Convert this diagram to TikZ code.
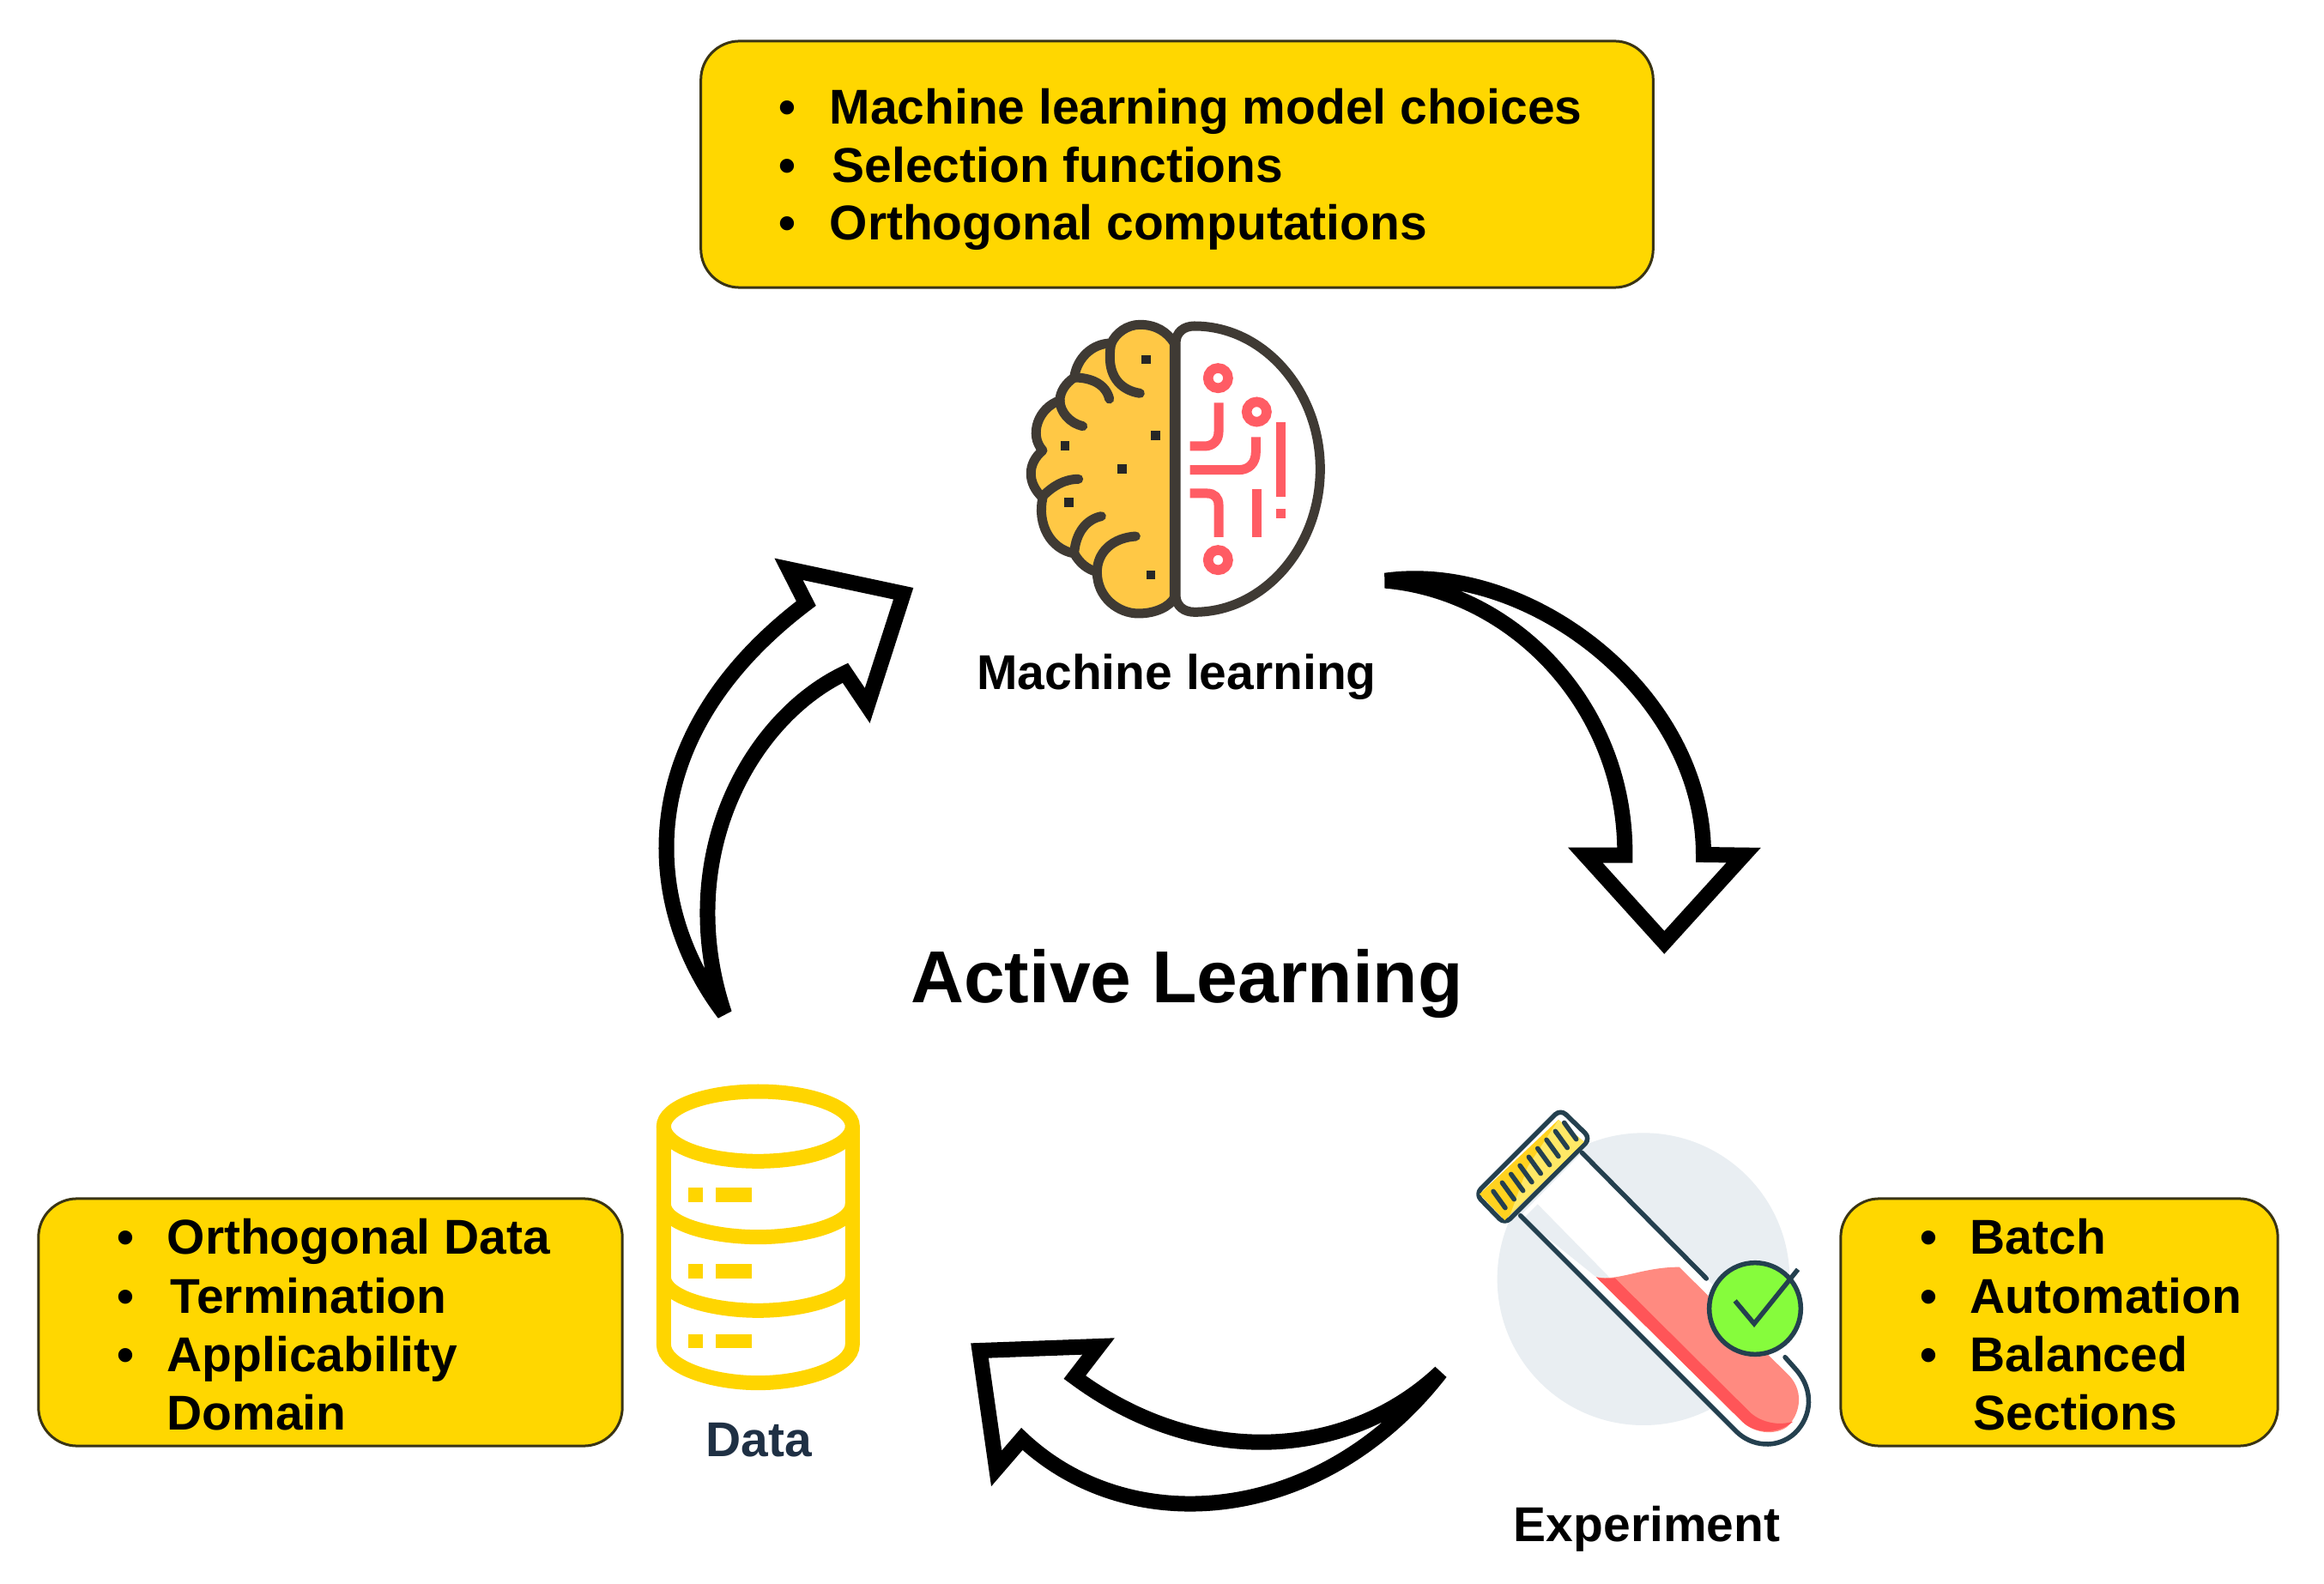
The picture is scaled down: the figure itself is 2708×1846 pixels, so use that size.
\documentclass[tikz,border=0pt]{standalone}
\usepackage{fontspec}
\setmainfont{Liberation Sans}
\definecolor{boxyellow}{HTML}{FFD700}
\definecolor{boxline}{HTML}{3A3414}
\definecolor{brainline}{HTML}{3F3A34}
\definecolor{brainfill}{HTML}{FFC845}
\definecolor{circuit}{HTML}{FF5C64}
\definecolor{tubeline}{HTML}{24404F}
\definecolor{discgrey}{HTML}{E9EEF2}
\definecolor{liquidlight}{HTML}{FF8A80}
\definecolor{liquiddark}{HTML}{FF5558}
\definecolor{capyellow}{HTML}{FFD21F}
\definecolor{caplight}{HTML}{FFE866}
\definecolor{checkgreen}{HTML}{86FC3C}
\definecolor{dbyellow}{HTML}{FFD500}
\definecolor{datatext}{HTML}{1F3044}
\tikzset{
  x=0.01cm,y=-0.01cm,
  px/.style={line width=#1*0.2845pt},
  infobox/.style={draw=boxline,fill=boxyellow,px=3,rounded corners=12.8pt,inner sep=0pt},
  itemtext/.style={anchor=base west,inner sep=0pt,font=\bfseries\fontsize{16.2pt}{19pt}\selectfont},
  itembullet/.style={anchor=base,inner sep=0pt,font=\bfseries\fontsize{16.2pt}{19pt}\selectfont},
  labeltext/.style={anchor=base,inner sep=0pt,font=\bfseries\fontsize{16.2pt}{19pt}\selectfont},
  blockarrow/.style={draw=black,fill=white,px=18,line join=miter,miter limit=6},
  brainstroke/.style={draw=brainline,px=11,line cap=round,line join=round},
  circuitstroke/.style={draw=circuit,px=11,line cap=butt},
  tubestroke/.style={draw=tubeline,px=5.5,line cap=round,line join=round},
  dbstroke/.style={draw=dbyellow,px=17},
}
\begin{document}
\begin{tikzpicture}
\useasboundingbox (0,0) rectangle (2708,1846);
\fill[white] (0,0) rectangle (2708,1846);

% ---- info boxes
\node[infobox,minimum width=11.09cm,minimum height=2.87cm] (topbox) at (1371.5,191.5) {};
\node[infobox,minimum width=6.80cm,minimum height=2.88cm] (leftbox) at (385,1541) {};
\node[infobox,minimum width=5.09cm,minimum height=2.88cm] (rightbox) at (2399.5,1541) {};

\node[itembullet] (tb1) at (917,145) {•};
\node[itembullet] (tb2) at (917,213) {•};
\node[itembullet] (tb3) at (917,280) {•};
\node[itemtext] (tt1) at (966,145) {Machine learning model choices};
\node[itemtext] (tt2) at (969,213) {Selection functions};
\node[itemtext] (tt3) at (966,280) {Orthogonal computations};

\node[itembullet] (lb1) at (146,1461) {•};
\node[itembullet] (lb2) at (146,1530) {•};
\node[itembullet] (lb3) at (146,1598) {•};
\node[itemtext] (lt1) at (194,1461) {Orthogonal Data};
\node[itemtext] (lt2) at (198,1530) {Termination};
\node[itemtext] (lt3) at (194,1598) {Applicability};
\node[itemtext] (lt4) at (194,1666) {Domain};

\node[itembullet] (rb1) at (2247,1461) {•};
\node[itembullet] (rb2) at (2247,1530) {•};
\node[itembullet] (rb3) at (2247,1598) {•};
\node[itemtext] (rt1) at (2295,1461) {Batch};
\node[itemtext] (rt2) at (2295,1530) {Automation};
\node[itemtext] (rt3) at (2295,1598) {Balanced};
\node[itemtext] (rt4) at (2299,1666) {Sections};

% ---- labels
\node[labeltext] (mllabel) at (1371,804) {Machine learning};
\node[labeltext,font=\bfseries\fontsize{24.4pt}{28pt}\selectfont] (title) at (1383,1169) {Active Learning};
\node[labeltext,text=datatext] (datalabel) at (884,1697) {Data};
\node[labeltext] (explabel) at (1919,1796) {Experiment};

% ---- right arrow (ML -> Experiment)
\begin{scope}[shift={(1580,640)},scale=0.33333]
\draw[blockarrow] (103,110) .. controls (600,40) and (1215,500) .. (1215,1068)
  -- (1355,1070) -- (1078,1375) -- (802,1070) -- (940,1070)
  .. controls (945,560) and (560,150) .. (103,110) -- cycle;
\end{scope}

% ---- bottom arrow (Experiment -> Data)
\begin{scope}[shift={(1110,1540)},xscale=0.3846,yscale=0.33333]
\draw[blockarrow] (1478,178) .. controls (1200,480) and (750,520) .. (370,195)
  -- (442,87) -- (82,102) -- (133,514) -- (210,411)
  .. controls (540,770) and (1120,710) .. (1478,178) -- cycle;
\end{scope}

% ---- left arrow (Data -> ML)
\begin{scope}[shift={(740,630)},xscale=0.33333,yscale=0.36996]
\draw[blockarrow] (312,1490) .. controls (25,1150) and (-20,620) .. (598,198)
  -- (537,90) -- (938,167) -- (812,520) -- (735,417)
  .. controls (400,560) and (130,1000) .. (312,1490) -- cycle;
\end{scope}

% ---- brain
\begin{scope}[shift={(1150,350)},scale=0.33333]
\draw[brainstroke,fill=white] (660,150) .. controls (660,110) and (690,90) .. (725,90)
  .. controls (970,90) and (1165,320) .. (1165,590)
  .. controls (1165,860) and (970,1090) .. (725,1090)
  .. controls (690,1090) and (660,1070) .. (660,1030) -- cycle;
\draw[brainstroke,fill=brainfill] (655,150) .. controls (630,110) and (590,85) .. (535,85)
  .. controls (490,85) and (450,115) .. (435,150)
  .. controls (370,150) and (315,200) .. (305,270)
  .. controls (275,290) and (255,320) .. (255,350)
  .. controls (180,375) and (145,470) .. (195,525)
  .. controls (140,570) and (140,640) .. (195,690)
  .. controls (175,780) and (220,870) .. (305,885)
  .. controls (325,920) and (350,940) .. (385,950)
  .. controls (385,1040) and (460,1095) .. (530,1095)
  .. controls (590,1095) and (640,1070) .. (655,1040) -- cycle;
\draw[brainstroke] (535,325) .. controls (470,315) and (430,270) .. (430,200) .. controls (430,175) and (432,160) .. (435,150);
\draw[brainstroke] (428,345) .. controls (415,290) and (360,270) .. (305,270);
\draw[brainstroke] (255,350) .. controls (255,390) and (290,430) .. (335,440);
\draw[brainstroke] (195,685) .. controls (230,650) and (270,625) .. (320,625);
\draw[brainstroke] (305,885) .. controls (310,810) and (350,765) .. (400,755);
\draw[brainstroke] (385,950) .. controls (385,880) and (440,830) .. (520,825);
\foreach \dx/\dy in {557/207,590/473,273/508,472/590,287/707,573/960}
  \fill[black!85] (\dx-16,\dy-16) rectangle (\dx+16,\dy+16);
\draw[circuitstroke,px=11.5] (808,272) circle[radius=35];
\draw[circuitstroke,px=11.5] (943,390) circle[radius=35];
\draw[circuitstroke,px=11.5] (808,908) circle[radius=35];
\draw[circuitstroke] (810,358) -- (810,460) .. controls (810,490) and (790,510) .. (760,510) -- (710,510);
\draw[circuitstroke] (940,478) -- (940,530) .. controls (940,570) and (915,593) .. (880,593) -- (710,593);
\draw[circuitstroke] (710,675) -- (770,675) .. controls (795,675) and (810,690) .. (810,715) -- (810,828);
\draw[circuitstroke] (943,660) -- (943,828);
\draw[circuitstroke] (1028,425) -- (1028,688);
\fill[circuit] (1012,728) rectangle (1044,762);
\end{scope}

% ---- test tube
\begin{scope}[shift={(1680,1260)},scale=0.33333]
\fill[discgrey] (705,692) circle[radius=511];
\fill[white] (275,470) -- (1030,1225) .. controls (1080,1275) and (1170,1290) .. (1235,1230)
  .. controls (1295,1170) and (1300,1080) .. (1240,1010) -- (1200,965) -- (925,690) -- (490,250) -- cycle;
\fill[discgrey] (285,480) -- (335,430) -- (590,690) -- (540,685) -- cycle;
\fill[liquidlight] (540,685) .. controls (620,700) and (700,650) .. (830,650) -- (1215,1030)
  .. controls (1270,1090) and (1250,1170) .. (1205,1210) .. controls (1160,1240) and (1090,1230) .. (1050,1190) -- cycle;
\fill[liquiddark] (540,685) .. controls (565,692) and (585,692) .. (605,688) -- (1080,1160)
  .. controls (1120,1195) and (1180,1205) .. (1228,1190) .. controls (1170,1240) and (1090,1230) .. (1050,1190) -- cycle;
\draw[tubestroke] (275,470) -- (1030,1225) .. controls (1080,1275) and (1170,1290) .. (1235,1230)
  .. controls (1295,1170) and (1300,1080) .. (1240,1010) -- (1200,965);
\draw[tubestroke] (490,250) -- (925,690);
\filldraw[tubestroke,fill=white,rounded corners=2.5pt] (118,395) -- (415,98) -- (520,200) -- (220,500) -- cycle;
\fill[capyellow] (132,395) -- (408,135) -- (497,212) -- (220,486) -- cycle;
\fill[caplight] (300,300) -- (408,135) -- (497,212) -- (240,465) -- cycle;
\foreach \i in {0,...,8}
  \draw[tubestroke,px=5.5] (180+31*\i,385-30*\i) -- ++(42,58);
\filldraw[tubestroke,fill=checkgreen] (1095,795) circle[radius=160];
\draw[tubestroke,line cap=butt,line join=miter] (1025,768) -- (1092,848) -- (1245,658);
\end{scope}

% ---- database
\begin{scope}[shift={(720,1240)},scale=0.33333]
\draw[dbstroke] (490,218) ellipse[x radius=330,y radius=122];
\draw[dbstroke] (160,218) -- (160,980) .. controls (160,1060) and (330,1115) .. (490,1115)
  .. controls (650,1115) and (820,1060) .. (820,980) -- (820,218);
\draw[dbstroke] (160,490) .. controls (160,560) and (330,605) .. (490,605) .. controls (650,605) and (820,560) .. (820,490);
\draw[dbstroke] (160,745) .. controls (160,815) and (330,862) .. (490,862) .. controls (650,862) and (820,815) .. (820,745);
\foreach \ry in {457,725,969} {
  \fill[dbyellow] (246,\ry-25) rectangle (298,\ry+25);
  \fill[dbyellow] (342,\ry-25) rectangle (468,\ry+25);
}
\end{scope}
\end{tikzpicture}
\end{document}
